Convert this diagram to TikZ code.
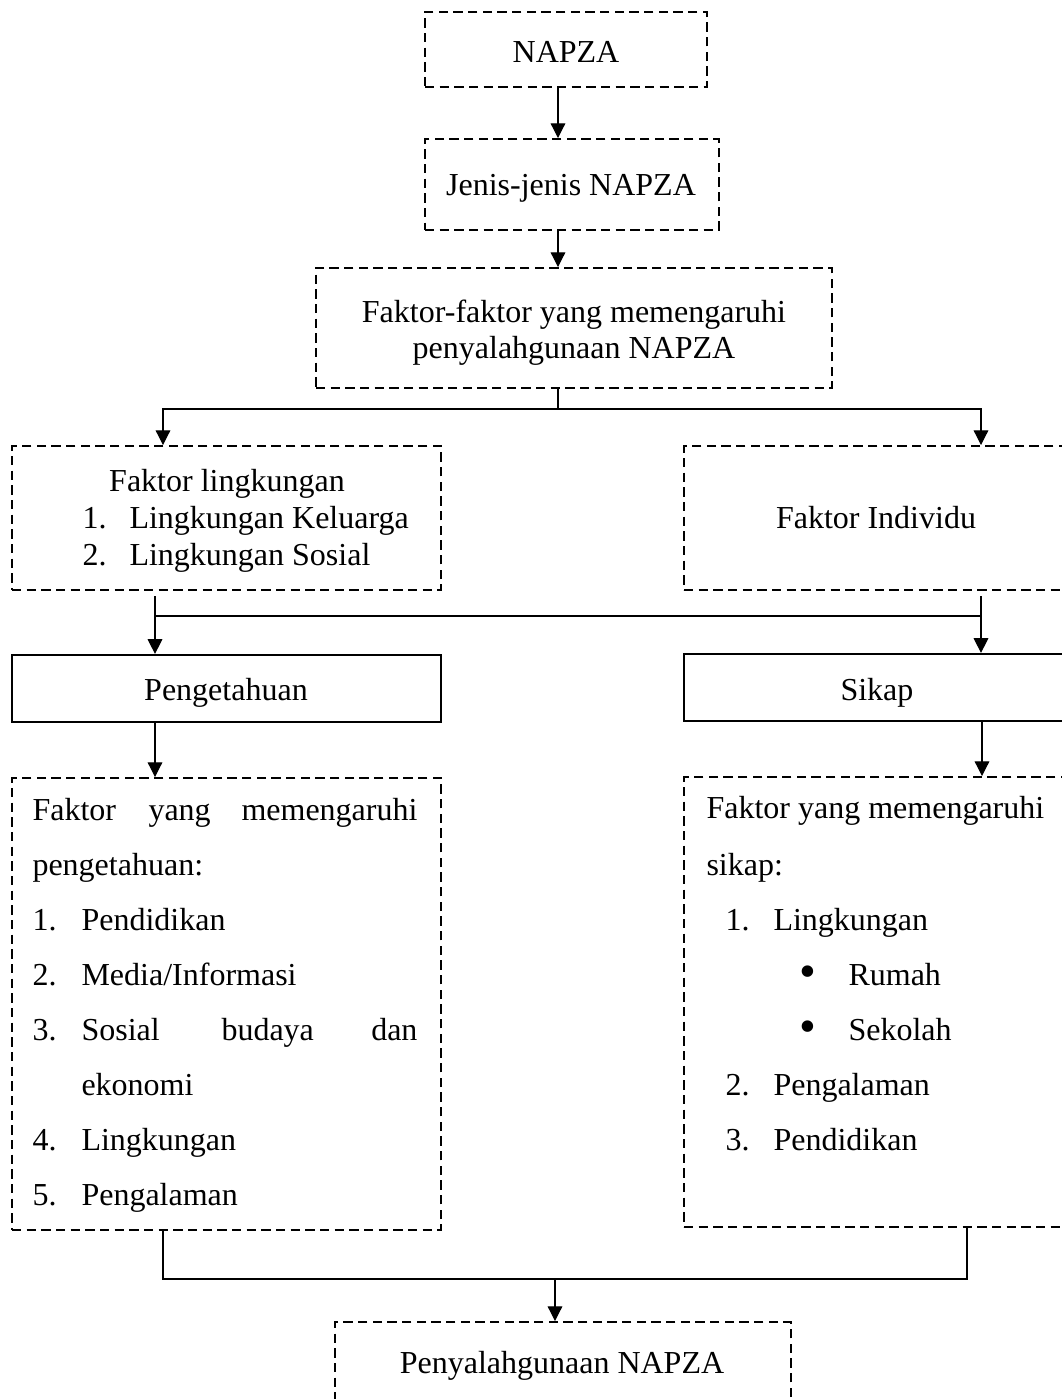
\documentclass[tikz,border=0pt]{standalone}
\usepackage{fontspec}
\setmainfont{Liberation Serif}
\usetikzlibrary{arrows.meta,fit}
\tikzset{
  dbox/.style={draw, line width=0.75pt, dash pattern=on 3.5pt off 2pt, inner sep=0pt},
  sbox/.style={draw, line width=0.85pt, inner sep=0pt},
  txt/.style={inner sep=0pt, font=\fontsize{12}{14}\selectfont},
  tl/.style={txt, anchor=base west},
  tr/.style={txt, anchor=base east},
  tc/.style={txt, anchor=base},
  bul/.style={inner sep=0pt, anchor=center, font=\fontsize{18}{20}\selectfont},
  conn/.style={line width=0.45pt},
  arr/.style={conn, -{Triangle[width=5.5pt,length=5.5pt]}},
}
\begin{document}
\begin{tikzpicture}[x=0.375pt, y=-0.375pt]
\useasboundingbox (0,0) rectangle (1062,1399);
\begin{scope}
\clip (0,0) rectangle (1062,1399);
% boxes
\node[dbox, fit={(425,12)(707,87)}] (napza) {};
\node[dbox, fit={(425,139)(719,230)}] (jenis) {};
\node[dbox, fit={(316,268)(832,388)}] (ff) {};
\node[dbox, fit={(12,446)(441,590)}] (fl) {};
\node[dbox, fit={(684,446)(1068,590)}] (fi) {};
\node[sbox, fit={(12,655)(441,722)}] (peng) {};
\node[sbox, fit={(684,654)(1070,721)}] (sikap) {};
\node[dbox, fit={(12,778)(441,1230)}] (lk) {};
\node[dbox, fit={(684,777)(1070,1227)}] (rk) {};
\node[dbox, fit={(335,1322)(791,1425)}] (pen) {};

% texts
\node[tc] (tnapza) at (566,62) {NAPZA};
\node[tc] (tjenis) at (571,195) {Jenis-jenis NAPZA};
\node[tc] (tff1) at (574,322) {Faktor-faktor yang memengaruhi};
\node[tc] (tff2) at (574,358) {penyalahgunaan NAPZA};
\node[tc] (tfl0) at (227,491) {Faktor lingkungan};
\node[tl] (tfl1n) at (82,528) {1.};
\node[tl] (tfl1) at (129,528) {Lingkungan Keluarga};
\node[tl] (tfl2n) at (82,565) {2.};
\node[tl] (tfl2) at (129,565) {Lingkungan Sosial};
\node[tc] (tfi) at (876,528) {Faktor Individu};
\node[tc] (tpeng) at (226,700) {Pengetahuan};
\node[tc] (tsikap) at (877,700) {Sikap};

% left list
\node[tl] (l1a) at (32,820) {Faktor};
\node[tl] (l1b) at (148,820) {yang};
\node[tr] (l1c) at (418,820) {memengaruhi};
\node[tl] (l2) at (32,875) {pengetahuan:};
\node[tl] (l3n) at (32,930) {1.};
\node[tl] (l3) at (81,930) {Pendidikan};
\node[tl] (l4n) at (32,985) {2.};
\node[tl] (l4) at (81,985) {Media/Informasi};
\node[tl] (l5n) at (32,1040) {3.};
\node[tl] (l5a) at (81,1040) {Sosial};
\node[tl] (l5b) at (221,1040) {budaya};
\node[tr] (l5c) at (418,1040) {dan};
\node[tl] (l6) at (81,1095) {ekonomi};
\node[tl] (l7n) at (32,1150) {4.};
\node[tl] (l7) at (81,1150) {Lingkungan};
\node[tl] (l8n) at (32,1205) {5.};
\node[tl] (l8) at (81,1205) {Pengalaman};

% right list
\node[tl] (r1) at (706,818) {Faktor yang memengaruhi};
\node[tl] (r2) at (706,875) {sikap:};
\node[tl] (r3n) at (725,930) {1.};
\node[tl] (r3) at (773,930) {Lingkungan};
\node[bul] (r4b) at (808,977) {•};
\node[tl] (r4) at (848,985) {Rumah};
\node[bul] (r5b) at (808,1032) {•};
\node[tl] (r5) at (848,1040) {Sekolah};
\node[tl] (r6n) at (725,1095) {2.};
\node[tl] (r6) at (773,1095) {Pengalaman};
\node[tl] (r7n) at (725,1150) {3.};
\node[tl] (r7) at (773,1150) {Pendidikan};

\node[tc] (tpen) at (562,1373) {Penyalahgunaan NAPZA};

% helper coordinates
\coordinate (x558) at (558,0);
\coordinate (x163) at (163,0);
\coordinate (x981) at (981,0);
\coordinate (x155) at (155,0);
\coordinate (x982) at (982,0);
\coordinate (x967) at (967,0);
\coordinate (x555) at (555,0);
\coordinate (y409) at (0,409);
\coordinate (y616) at (0,616);
\coordinate (y1279) at (0,1279);
\coordinate (fls) at (155,596);
\coordinate (fis) at (981,596);

% connectors
\draw[arr] (napza.south -| x558) -- (jenis.north -| x558);
\draw[arr] (jenis.south -| x558) -- (ff.north -| x558);
\draw[conn] (ff.south -| x558) -- (x558 |- y409);
\draw[arr] (x558 |- y409) -| (fl.north -| x163);
\draw[arr] (x558 |- y409) -| (fi.north -| x981);
\draw[arr] (fls) -- (peng.north -| fls);
\draw[arr] (fis) -- (sikap.north -| fis);
\draw[conn] (fls |- y616) -- (fis |- y616);
\draw[arr] (peng.south -| x155) -- (lk.north -| x155);
\draw[arr] (sikap.south -| x982) -- (rk.north -| x982);
\draw[conn] (lk.south -| x163) -- (x163 |- y1279) -- (x967 |- y1279) -- (rk.south -| x967);
\draw[arr] (x555 |- y1279) -- (pen.north -| x555);
\end{scope}
\end{tikzpicture}
\end{document}
